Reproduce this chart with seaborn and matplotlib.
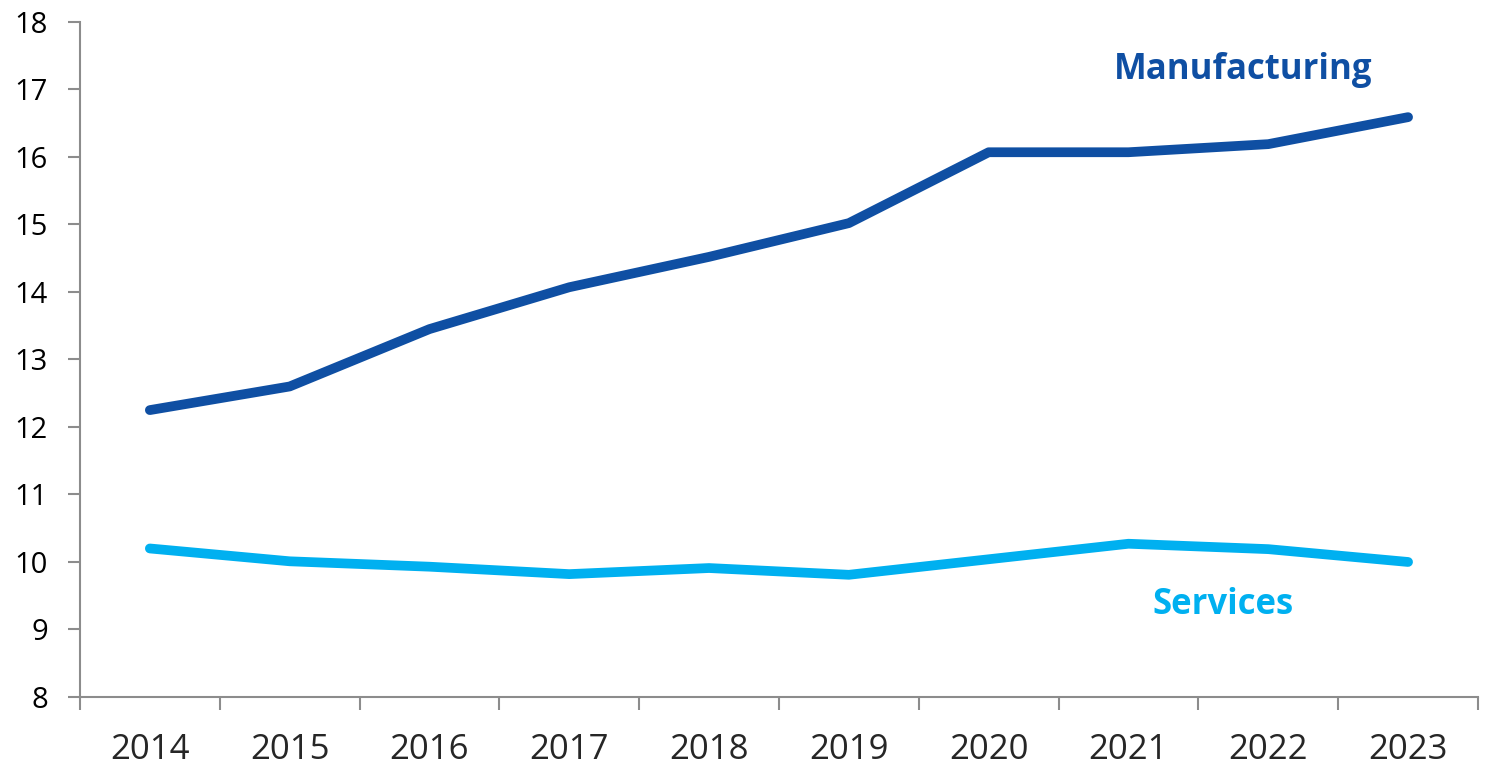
import matplotlib
matplotlib.use("Agg")
import matplotlib.pyplot as plt
import numpy as np
import pandas as pd
import seaborn as sns

# данные
years = ["2014", "2015", "2016", "2017", "2018", "2019", "2020", "2021", "2022", "2023"]
manufacturing = [12.25, 12.6, 13.45, 14.07, 14.52, 15.02, 16.07, 16.07, 16.19, 16.59]
services = [10.2, 10.01, 9.93, 9.82, 9.91, 9.81, 10.04, 10.27, 10.19, 10.0]

series_names = ["Manufacturing", "Services"]
colors = {"Manufacturing": "#0F4FA3", "Services": "#00B0F0"}

df = pd.DataFrame({
    "pos": list(range(len(years))) * 2,
    "value": manufacturing + services,
    "series": [series_names[0]] * len(years) + [series_names[1]] * len(years),
})

sns.set_style("white")
plt.rcParams["font.family"] = ["Open Sans", "DejaVu Sans"]

fig = plt.figure(figsize=(14.86, 7.79), dpi=100)
ax = fig.add_axes([0.0538, 0.1053, 0.9408, 0.8665])

sns.lineplot(
    data=df, x="pos", y="value", hue="series",
    palette=colors, linewidth=7, legend=False, ax=ax,
    solid_capstyle="round",
)

# оси в стиле Excel: деления между категориями
ax.set_xlim(-0.5, len(years) - 0.5)
ax.set_ylim(8, 18)
ax.set_yticks(np.arange(8, 19, 1))
ax.set_xticks(np.arange(-0.5, len(years), 1))
ax.set_xticklabels([])
ax.set_xticks(np.arange(len(years)), minor=True)
ax.set_xticklabels(years, minor=True)

grey = "#8C8C8C"
for side in ["top", "right"]:
    ax.spines[side].set_visible(False)
for side in ["left", "bottom"]:
    ax.spines[side].set_color(grey)
    ax.spines[side].set_linewidth(1.5)

ax.tick_params(axis="both", which="major", direction="out", length=9, width=1.5,
               color=grey, labelsize=21, labelcolor="black", left=True, bottom=True)
ax.tick_params(axis="y", pad=14)
ax.tick_params(axis="x", which="minor", length=0, labelsize=25, pad=26)
ax.set_xlabel("")
ax.set_ylabel("")

ax.text(7.82, 17.29, "Manufacturing", color=colors["Manufacturing"],
        fontsize=25, fontweight="bold", ha="center", va="center")
ax.text(7.68, 9.36, "Services", color=colors["Services"],
        fontsize=25, fontweight="bold", ha="center", va="center")

plt.savefig("out.png", dpi=100)
